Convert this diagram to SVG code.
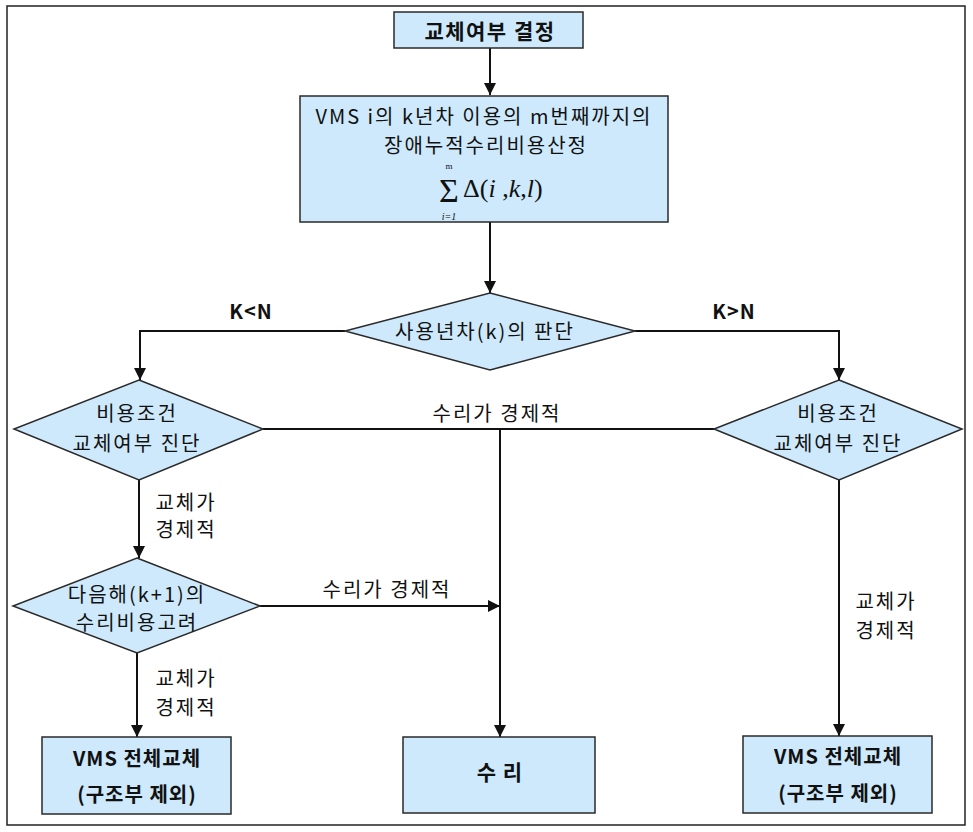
<svg xmlns="http://www.w3.org/2000/svg" width="973" height="832" viewBox="0 0 973 832">
<defs>
<style>
.node{fill:#cde9fb;stroke:#2a2a2a;stroke-width:1.5}
.edge{fill:none;stroke:#111;stroke-width:2}
.t{font-family:"Noto Sans CJK KR","Noto Sans",sans-serif;font-size:20px;letter-spacing:2px;fill:#111;text-anchor:middle}
.b{font-weight:bold;letter-spacing:1px}
.m{font-family:"Liberation Serif",serif;fill:#111}
</style>
<marker id="arr" viewBox="0 0 10 10" refX="10" refY="5" markerWidth="12" markerHeight="12" orient="auto" markerUnits="userSpaceOnUse">
<path d="M0,0 L10,5 L0,10 z" fill="#111"/>
</marker>
</defs>
<rect width="973" height="832" fill="#fff"/>
<rect x="7" y="6" width="958" height="819" fill="none" stroke="#222" stroke-width="1.5"/>

<g id="connectors">
<line class="edge" x1="490" y1="48" x2="490" y2="95" marker-end="url(#arr)"/>
<line class="edge" x1="490" y1="222" x2="490" y2="293" marker-end="url(#arr)"/>
<polyline class="edge" points="345,331 140,331 140,380" marker-end="url(#arr)"/>
<polyline class="edge" points="635,331 839,331 839,380" marker-end="url(#arr)"/>
<line class="edge" x1="263" y1="429" x2="714" y2="429"/>
<line class="edge" x1="500" y1="429" x2="500" y2="737" marker-end="url(#arr)"/>
<line class="edge" x1="139" y1="480" x2="139" y2="558" marker-end="url(#arr)"/>
<line class="edge" x1="260" y1="606" x2="500" y2="606" marker-end="url(#arr)"/>
<line class="edge" x1="137" y1="653" x2="137" y2="737" marker-end="url(#arr)"/>
<line class="edge" x1="839" y1="480" x2="839" y2="736" marker-end="url(#arr)"/>
<text class="t b" x="251" y="319">K&lt;N</text>
<text class="t b" x="734" y="319">K&gt;N</text>
<text class="t" x="497" y="421">수리가 경제적</text>
<text class="t" x="387" y="597">수리가 경제적</text>
<text class="t" x="186" y="510">교체가</text>
<text class="t" x="186" y="537">경제적</text>
<text class="t" x="186" y="686">교체가</text>
<text class="t" x="186" y="715">경제적</text>
<text class="t" x="886" y="609">교체가</text>
<text class="t" x="886" y="638">경제적</text>
</g>

<g id="n-start">
<rect class="node" x="394" y="12" width="189" height="36"/>
<text class="t b" x="490" y="39" style="font-size:21px;letter-spacing:1.5px">교체여부 결정</text>
</g>

<g id="n-calc">
<rect class="node" x="300" y="96" width="368" height="126"/>
<text class="t" x="484" y="124">VMS i의 k년차 이용의 m번째까지의</text>
<text class="t" x="486" y="153">장애누적수리비용산정</text>
<text class="m" x="449" y="202" font-size="34" text-anchor="middle">Σ</text>
<text class="m" x="449" y="169" font-size="9" text-anchor="middle">m</text>
<text class="m" x="449" y="220" font-size="10" font-style="italic" text-anchor="middle">i=1</text>
<text class="m" x="463" y="197" font-size="26">Δ(<tspan font-style="italic">i</tspan> ,<tspan font-style="italic">k</tspan>,<tspan font-style="italic">l</tspan>)</text>
</g>

<g id="n-year">
<polygon class="node" points="490,293 635,331 490,370 345,331"/>
<text class="t" x="485" y="339">사용년차(k)의 판단</text>
</g>

<g id="n-cost-left">
<polygon class="node" points="139,380 263,429 139,480 14,429"/>
<text class="t" x="137" y="421">비용조건</text>
<text class="t" x="137" y="451">교체여부 진단</text>
</g>

<g id="n-cost-right">
<polygon class="node" points="839,380 962,429 839,480 714,429"/>
<text class="t" x="838" y="421">비용조건</text>
<text class="t" x="838" y="451">교체여부 진단</text>
</g>

<g id="n-next">
<polygon class="node" points="137,558 260,606 137,653 13,606"/>
<text class="t" x="137" y="602">다음해(k+1)의</text>
<text class="t" x="137" y="630">수리비용고려</text>
</g>

<g id="n-replace-left">
<rect class="node" x="42" y="737" width="189" height="77"/>
<text class="t b" x="137" y="766">VMS 전체교체</text>
<text class="t b" x="137" y="802">(구조부 제외)</text>
</g>

<g id="n-repair">
<rect class="node" x="403" y="737" width="192" height="76"/>
<text class="t b" x="500" y="780" style="font-size:21px">수 리</text>
</g>

<g id="n-replace-right">
<rect class="node" x="743" y="736" width="189" height="77"/>
<text class="t b" x="838" y="764">VMS 전체교체</text>
<text class="t b" x="838" y="801">(구조부 제외)</text>
</g>
</svg>
